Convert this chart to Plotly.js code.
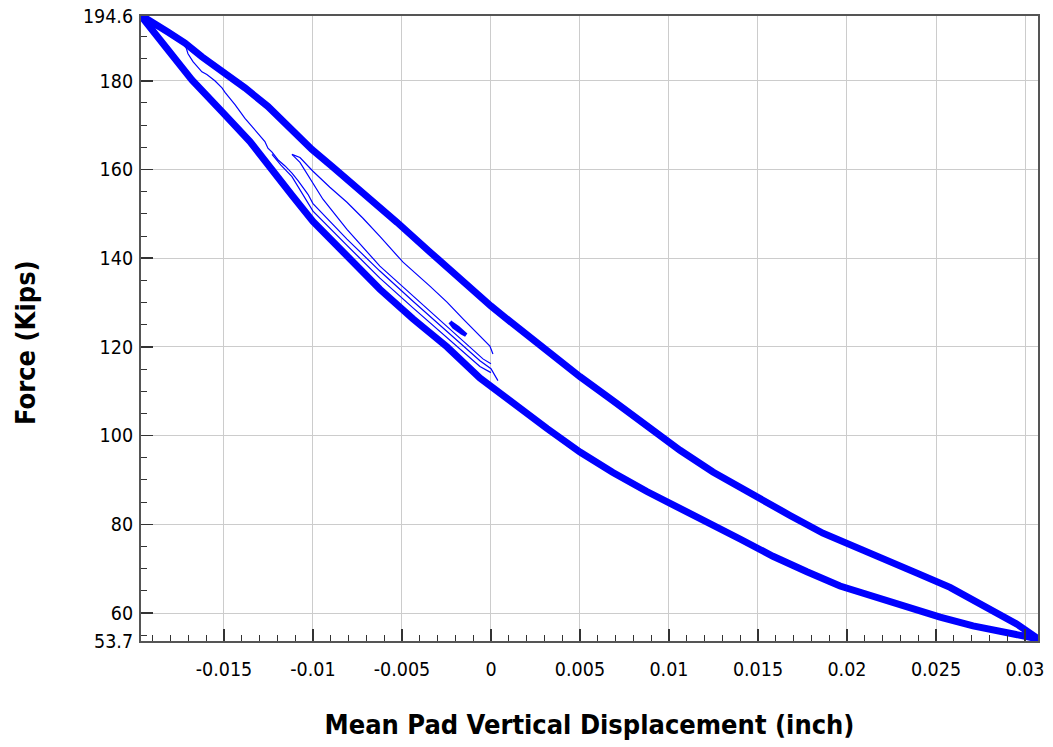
<!DOCTYPE html>
<html><head><meta charset="utf-8">
<script src="https://cdn.plot.ly/plotly-3.0.1.min.js"></script>
<style>html,body{margin:0;padding:0;background:#fff;}#chart{width:1053px;height:747px;}</style>
</head><body><div id="chart"></div>
<script>
// Outer hysteresis loop (repeated cycles), upper branch: top-left tip -> bottom-right tip
const upperX = [-0.01966,-0.01944,-0.01815,-0.01719,-0.01624,-0.01506,-0.01382,-0.01253,-0.01140,-0.01006,-0.00893,-0.00809,-0.00669,-0.00528,-0.00343,-0.00157,-0.00062,0,0.00124,0.00315,0.005,0.00685,0.00876,0.01062,0.01247,0.01494,0.01680,0.01865,0.02017,0.02202,0.02393,0.02579,0.02764,0.02955,0.03067];
const upperY = [194.6,194.2,191.0,188.5,185.4,182.0,178.4,174.2,169.7,164.5,160.7,157.8,153.3,148.1,141.4,134.6,131.2,129.2,125.2,119.1,113.3,107.9,102.3,96.7,91.8,86.1,82.0,78.0,75.3,72.4,69.0,65.8,61.8,57.5,54.4];
// Outer loop, lower branch: top-left tip -> bottom-right tip
const lowerX = [-0.01966,-0.01944,-0.01815,-0.01680,-0.01506,-0.01354,-0.01230,-0.01118,-0.01000,-0.00809,-0.00624,-0.00438,-0.00247,-0.00062,0.00124,0.00315,0.005,0.00685,0.00876,0.01062,0.01247,0.01399,0.01584,0.01775,0.01961,0.02146,0.02337,0.02523,0.02708,0.02899,0.03045,0.03067];
const lowerY = [194.6,193.3,187.0,180.2,172.8,166.3,160.0,154.2,148.3,140.5,133.0,126.3,120.0,113.0,107.2,101.6,96.3,91.7,87.4,83.4,79.8,76.7,72.8,69.3,66.1,63.6,61.4,59.1,57.1,55.5,54.4,54.2];
// Early cycle returning from about -0.0173 in
const cycleAX = [-0.01730,-0.01719,-0.01702,-0.01674,-0.01652,-0.01624,-0.01596,-0.01551,-0.01511,-0.01494,-0.01438,-0.01382,-0.01343,-0.01309,-0.01270,-0.01253,-0.01230,-0.01197,-0.01157,-0.01118,-0.01084,-0.01028,-0.01000,-0.00809,-0.00624,-0.00438,-0.00247,-0.00062,0,0.00039];
const cycleAY = [189.2,188.3,186.1,184.3,183.3,182.0,181.4,180.0,178.4,177.4,174.6,171.5,169.7,168.0,166.3,164.8,163.9,162.2,160.8,159.2,157.5,154.4,152.3,144.3,137.1,130.3,123.6,116.9,115.1,112.4];
// Second early cycle, running just below the first
const cycleDX = [-0.01230,-0.01180,-0.01118,-0.01000,-0.00809,-0.00624,-0.00438,-0.00247,-0.00062,0];
const cycleDY = [163.4,161.0,158.4,150.6,142.9,135.5,128.8,122.2,115.6,114.2];
// Small first cycle, upper path
const cycleBX = [-0.01118,-0.01073,-0.01000,-0.00905,-0.00809,-0.00719,-0.00624,-0.00494,-0.00343,-0.00247,-0.00157,-0.00062,-0.00006,0.00011];
const cycleBY = [163.4,162.7,159.6,156.0,152.6,149.0,144.9,139.1,133.7,130.1,126.3,122.5,120.2,118.4];
// Small first cycle, lower path
const cycleCX = [-0.01118,-0.01073,-0.00944,-0.00809,-0.00624,-0.00438,-0.00247,-0.00045,0];
const cycleCY = [163.4,161.6,153.3,146.5,138.2,131.5,124.7,117.3,116.2];
// Tiny loop near -0.002 in
const tinyX = [-0.00230,-0.00185,-0.00140,-0.00163,-0.00208,-0.00230];
const tinyY = [125.6,124.3,122.7,123.2,124.5,125.6];

const yTicks = [53.7,60,80,100,120,140,160,180,194.6];
const yTickText = ['53.7','60','80','100','120','140','160','180','194.6'];
const yMinor = [55,65,70,75,85,90,95,105,110,115,125,130,135,145,150,155,165,170,175,185,190];
const xTicks = [-0.015,-0.01,-0.005,0,0.005,0.01,0.015,0.02,0.025,0.03];
const xTickText = ['-0.015','-0.01','-0.005','0','0.005','0.01','0.015','0.02','0.025','0.03'];
const xMinor = [-0.019,-0.018,-0.017,-0.016,-0.014,-0.013,-0.012,-0.011,-0.009,-0.008,-0.007,-0.006,-0.004,-0.003,-0.002,-0.001,0.001,0.002,0.003,0.004,0.006,0.007,0.008,0.009,0.011,0.012,0.013,0.014,0.016,0.017,0.018,0.019,0.021,0.022,0.023,0.024,0.026,0.027,0.028,0.029];

const blue = '#0000ff';
const loopX = upperX.concat(lowerX.slice().reverse());
const loopY = upperY.concat(lowerY.slice().reverse());
const thin = {color:blue, width:1.2};
const traces = [
  {x: loopX, y: loopY, mode:'lines', line:{color:blue, width:7}},
  {x: cycleAX, y: cycleAY, mode:'lines', line:thin},
  {x: cycleDX, y: cycleDY, mode:'lines', line:thin},
  {x: cycleBX, y: cycleBY, mode:'lines', line:thin},
  {x: cycleCX, y: cycleCY, mode:'lines', line:thin},
  {x: tinyX, y: tinyY, mode:'lines', line:{color:blue, width:4}, fill:'toself', fillcolor:blue}
];
const fam = '"DejaVu Sans Condensed", "DejaVu Sans", sans-serif';
const tickFont = {family:fam, size:19.5, color:'#000'};
const titleFont = {family:fam, size:27, color:'#000', weight:'bold'};
const layout = {
  width:1053, height:747,
  margin:{l:141, r:15, t:16, b:106},
  paper_bgcolor:'#fff', plot_bgcolor:'#fff',
  showlegend:false,
  xaxis:{
    range:[-0.01966,0.03073], tickmode:'array', tickvals:xTicks, ticktext:xTickText,
    ticks:'inside', ticklen:12, tickwidth:1.5, tickcolor:'#333',
    showline:true, linecolor:'#555', linewidth:2, mirror:true,
    showgrid:true, gridcolor:'#cccccc', gridwidth:1, zeroline:false,
    tickfont:tickFont, ticklabelstandoff:10,
    minor:{tickmode:'array', tickvals:xMinor, ticks:'inside', ticklen:6, tickwidth:1, tickcolor:'#333', showgrid:false},
    title:{text:'Mean Pad Vertical Displacement (inch)', font:titleFont, standoff:35}
  },
  yaxis:{
    range:[53.7,194.6], tickmode:'array', tickvals:yTicks, ticktext:yTickText,
    ticks:'inside', ticklen:12, tickwidth:1.5, tickcolor:'#333',
    showline:true, linecolor:'#555', linewidth:2, mirror:true,
    showgrid:true, gridcolor:'#cccccc', gridwidth:1, zeroline:false,
    tickfont:tickFont, ticklabelstandoff:2,
    minor:{tickmode:'array', tickvals:yMinor, ticks:'inside', ticklen:6, tickwidth:1, tickcolor:'#333', showgrid:false}
  },
  annotations:[{
    text:'Force (Kips)', textangle:-90, font:titleFont, showarrow:false,
    xref:'paper', yref:'paper', x:0, y:0.4768, xanchor:'center', yanchor:'middle', xshift:-116
  }]
};
Plotly.newPlot('chart', traces, layout, {displayModeBar:false, staticPlot:true});
</script>
</body></html>
